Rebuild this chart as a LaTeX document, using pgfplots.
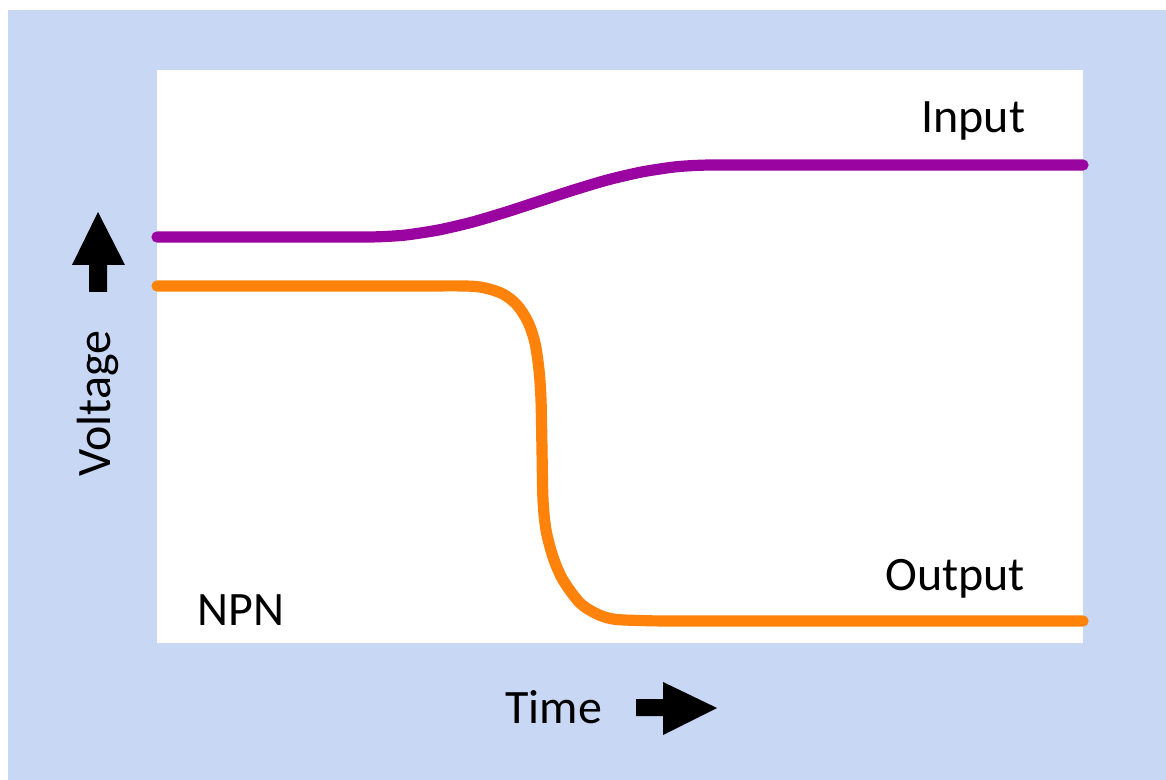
\documentclass[border=0pt]{standalone}
\usepackage{pgfplots}
\pgfplotsset{compat=1.18}
\usepackage{fontspec}
\setmainfont{Carlito}
\definecolor{bgblue}{HTML}{C8D7F3}
\definecolor{inpurple}{HTML}{9A04A0}
\definecolor{outorange}{HTML}{FF820A}
\begin{document}
\begin{tikzpicture}[x=0.5pt,y=-0.5pt]
\fill[white] (0,0) rectangle (1166,780);
\fill[bgblue] (8,10) rectangle (1166,780);
\fill[white] (157,70) rectangle (1083,643);
\begin{axis}[
  at={(157,643)}, anchor=south west,
  width=463pt, height=286.5pt, scale only axis,
  xmin=157, xmax=1083, ymin=70, ymax=643, y dir=reverse,
  hide axis, clip=false,
]
\addplot[inpurple, line width=5.6pt, line cap=round, smooth, tension=0.4] coordinates {
 (157,237) (300,237) (370,237) (404,235.2) (438,230.1) (472,222.2) (506,212.1)
 (540,201) (574,189.9) (608,179.8) (642,171.9) (676,166.8) (710,165)
 (800,165) (1083,165)};
\addplot[outorange, line width=5.6pt, line cap=round, smooth, tension=0.5] coordinates {
 (157,286) (400,286) (465,286) (485,288) (503,294) (517,305) (528,322) (535,343)
 (539,370) (541,400) (542,450) (543,500) (546,530) (553,557) (563,580)
 (580,603) (597,614) (613,619) (640,620.5) (700,621) (1083,621)};
\end{axis}
\fontsize{24}{28}\selectfont
\node[anchor=base west, inner sep=0pt] at (921,133) {Input};
\node[anchor=base west, inner sep=0pt] at (885,590) {Output};
\node[anchor=base west, inner sep=0pt] at (197,625) {NPN};
\node[anchor=base west, inner sep=0pt] at (505,723) {Time};
\node[anchor=base west, inner sep=0pt, rotate=90] at (110,477) {Voltage};
\fill[black] (98,212) -- (125,265) -- (107,265) -- (107,292) -- (89,292) -- (89,265) -- (72,265) -- cycle;
\fill[black] (717,708) -- (663,735) -- (663,716) -- (636,716) -- (636,699) -- (663,699) -- (663,682) -- cycle;
\end{tikzpicture}
\end{document}
